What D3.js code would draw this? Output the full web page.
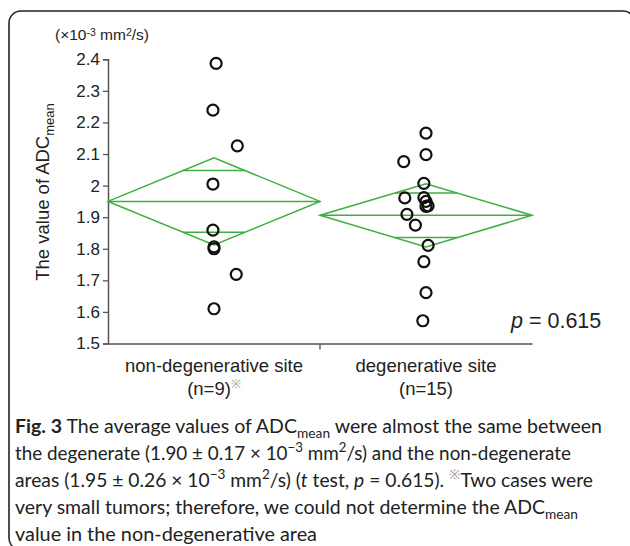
<!DOCTYPE html>
<html>
<head>
<meta charset="utf-8">
<script src="https://cdn.jsdelivr.net/npm/d3@7"></script>
<style>
  html, body { margin: 0; padding: 0; background: #fff; }
  svg { display: block; }
</style>
</head>
<body>
<svg id="chart" width="630" height="546"></svg>
<script>
// ---------- data ----------
const categories = ["non-degenerative site", "degenerative site"];
const categoryN = ["(n=9)", "(n=15)"];
const nonDegValues = [2.387, 2.239, 2.126, 2.005, 1.859, 1.806, 1.800, 1.719, 1.610];
const nonDegJitter = [0.01, -0.005, 0.11, -0.005, -0.005, 0.0, 0.0, 0.105, 0.0];
const degValues = [2.166, 2.098, 2.076, 2.007, 1.961, 1.962, 1.950, 1.936, 1.934, 1.909, 1.875, 1.811, 1.759, 1.661, 1.572];
const degJitter = [0.0, 0.0, -0.105, -0.01, -0.1, -0.01, 0.0, 0.01, 0.0, -0.09, -0.05, 0.01, -0.01, 0.0, -0.015];
const groupMeans = [1.950, 1.906];
const groupCI = [0.138, 0.100];
const yTicks = [1.5, 1.6, 1.7, 1.8, 1.9, 2.0, 2.1, 2.2, 2.3, 2.4];
const yTickLabels = ["1.5", "1.6", "1.7", "1.8", "1.9", "2", "2.1", "2.2", "2.3", "2.4"];
const pValue = "0.615";

// ---------- setup ----------
const svg = d3.select("#chart");
const green = "#40ad40";
const axisColor = "#555";
const chartFont = "'Liberation Sans', Arial, sans-serif";
const capFont = "Lato, 'Open Sans', sans-serif";

// frame
svg.append("rect")
  .attr("x", 9).attr("y", 11)
  .attr("width", 626).attr("height", 539)
  .attr("rx", 12).attr("ry", 12)
  .attr("fill", "none").attr("stroke", "#222").attr("stroke-width", 1.6);

const x = d3.scaleBand().domain(categories).range([108, 532]).padding(0);
const y = d3.scaleLinear().domain([1.5, 2.4]).range([343.5, 59.3]);

const g = svg.append("g");

// y axis
const yAxis = g.append("g")
  .attr("transform", `translate(${x.range()[0]},0)`)
  .call(d3.axisLeft(y).tickValues(yTicks).tickFormat((d, i) => yTickLabels[i]).tickSize(5).tickPadding(3));
yAxis.select(".domain").attr("stroke", axisColor).attr("stroke-width", 1.5);
yAxis.selectAll(".tick line").attr("stroke", axisColor).attr("stroke-width", 1.3);
yAxis.selectAll(".tick text").attr("fill", "#222").style("font-family", chartFont).style("font-size", "17px");

// x axis
const xAxis = g.append("g")
  .attr("transform", `translate(0,${y(1.5)})`)
  .call(d3.axisBottom(x).tickSize(0).tickFormat(""));
xAxis.select(".domain").attr("stroke", axisColor).attr("stroke-width", 1.5);
// boundary tick between categories
g.append("line")
  .attr("x1", x(categories[1])).attr("x2", x(categories[1]))
  .attr("y1", y(1.5)).attr("y2", y(1.5) + 6)
  .attr("stroke", axisColor).attr("stroke-width", 1.3);

// x labels
categories.forEach((c, i) => {
  const cx = x(c) + x.bandwidth() / 2;
  g.append("text").attr("x", cx).attr("y", 372).attr("text-anchor", "middle")
    .style("font-family", chartFont).style("font-size", "18.5px").attr("fill", "#222").text(c);
  const t = g.append("text").attr("x", cx).attr("y", 395).attr("text-anchor", "middle")
    .style("font-family", chartFont).style("font-size", "18.5px").attr("fill", "#222");
  t.append("tspan").text(categoryN[i]);
  if (i === 0) t.append("tspan").attr("dy", -7).style("font-size", "12px").attr("fill", "#999").text("※");
});

// y label
const yl = g.append("text")
  .attr("transform", "translate(49,192) rotate(-90)")
  .attr("text-anchor", "middle")
  .style("font-family", chartFont).style("font-size", "18.5px").attr("fill", "#222");
yl.append("tspan").text("The value of ADC");
yl.append("tspan").attr("dy", 5).style("font-size", "13px").text("mean");

// unit label
const ul = g.append("text").attr("x", 55).attr("y", 40)
  .style("font-family", chartFont).style("font-size", "15.5px").attr("fill", "#222");
ul.append("tspan").text("(×10");
ul.append("tspan").attr("dy", -4).style("font-size", "10.5px").text("-3");
ul.append("tspan").attr("dy", 4).text(" mm");
ul.append("tspan").attr("dy", -4).style("font-size", "10.5px").text("2");
ul.append("tspan").attr("dy", 4).text("/s)");

// diamonds
categories.forEach((c, i) => {
  const x0 = x(c), x1 = x(c) + x.bandwidth(), cx = (x0 + x1) / 2;
  const m = groupMeans[i], ci = groupCI[i];
  const pts = [[x0, y(m)], [cx, y(m + ci)], [x1, y(m)], [cx, y(m - ci)]];
  g.append("path").attr("d", d3.line()(pts) + "Z")
    .attr("fill", "none").attr("stroke", green).attr("stroke-width", 1.5);
  g.append("line").attr("x1", x0).attr("x2", x1).attr("y1", y(m)).attr("y2", y(m))
    .attr("stroke", green).attr("stroke-width", 1.5);
  const off = ci / Math.SQRT2;
  const hw = (x.bandwidth() / 2) * (1 - off / ci);
  [m + off, m - off].forEach(v => {
    g.append("line").attr("x1", cx - hw).attr("x2", cx + hw).attr("y1", y(v)).attr("y2", y(v))
      .attr("stroke", green).attr("stroke-width", 1.5);
  });
});

// points
const groups = [[nonDegValues, nonDegJitter], [degValues, degJitter]];
groups.forEach(([vals, jit], i) => {
  const c = categories[i];
  g.selectAll(null).data(vals).enter().append("circle")
    .attr("cx", (d, k) => x(c) + x.bandwidth() * (0.5 + jit[k]))
    .attr("cy", d => y(d))
    .attr("r", 5.5)
    .attr("fill", "none").attr("stroke", "#111").attr("stroke-width", 2.2);
});

// p value
const pt = g.append("text").attr("x", 511).attr("y", 328)
  .style("font-family", chartFont).style("font-size", "21.5px").attr("fill", "#222");
pt.append("tspan").style("font-style", "italic").text("p");
pt.append("tspan").text(" = " + pValue);

// ---------- caption ----------
const capSize = 18.5;
const lines = [
  { y: 433, w: 587, parts: [["b", "Fig. 3"], ["", " The average values of ADC"], ["sub", "mean"], ["", " were almost the same between"]] },
  { y: 460, w: 556, parts: [["", "the degenerate (1.90 ± 0.17 × 10"], ["sup", "−3"], ["", " mm"], ["sup", "2"], ["", "/s) and the non-degenerate"]] },
  { y: 487, w: 578, parts: [["", "areas (1.95 ± 0.26 × 10"], ["sup", "−3"], ["", " mm"], ["sup", "2"], ["", "/s) ("], ["i", "t"], ["", " test, "], ["i", "p"], ["", " = 0.615). "], ["supg", "※"], ["", "Two cases were"]] },
  { y: 514, w: 563, parts: [["", "very small tumors; therefore, we could not determine the ADC"], ["sub", "mean"]] },
  { y: 541, w: 302, parts: [["", "value in the non-degenerative area"]] }
];
lines.forEach(L => {
  const t = svg.append("text").attr("x", 15).attr("y", L.y)
    .style("font-family", capFont).style("font-size", capSize + "px").attr("fill", "#222")
    .attr("textLength", L.w).attr("lengthAdjust", "spacingAndGlyphs");
  let shift = 0;
  L.parts.forEach(([k, s]) => {
    const ts = t.append("tspan").text(s);
    let target = 0;
    if (k === "sub") { target = 5; ts.style("font-size", "13px"); }
    if (k === "sup" || k === "supg") { target = -8; ts.style("font-size", "13px"); }
    if (k === "supg") ts.attr("fill", "#999");
    if (k === "b") ts.style("font-weight", "bold");
    if (k === "i") ts.style("font-style", "italic");
    if (target !== shift) { ts.attr("dy", target - shift); shift = target; }
  });
});
</script>
</body>
</html>
